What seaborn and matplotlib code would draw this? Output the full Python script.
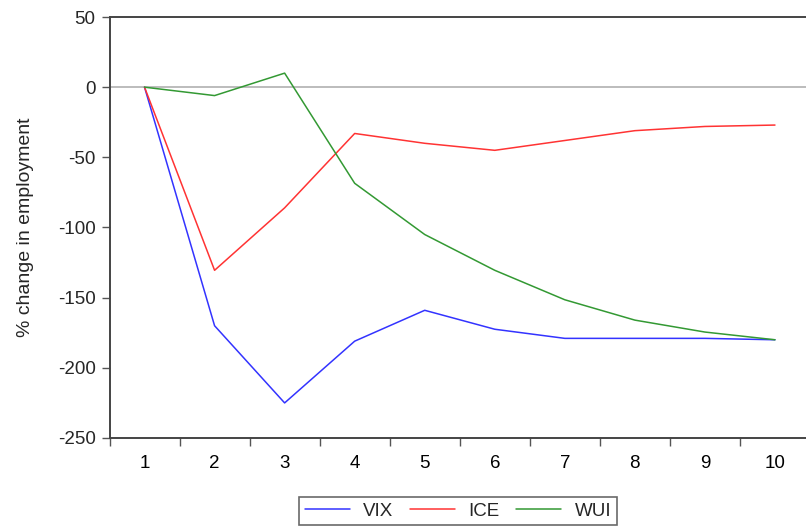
import pandas as pd
import seaborn as sns
import matplotlib.pyplot as plt
from matplotlib.ticker import MultipleLocator, FixedLocator

periods = [1, 2, 3, 4, 5, 6, 7, 8, 9, 10]
vix = [0, -170, -225, -181, -159, -172.5, -179, -179, -179, -180]
ice = [0, -130.5, -86, -33, -40, -45, -38, -31, -28, -27]
wui = [0, -6, 10, -68.5, -105, -130.5, -151.5, -166, -174.5, -180]
series_names = ["VIX", "ICE", "WUI"]
colors = ["#3333ff", "#ff3333", "#339933"]

df = pd.DataFrame({
    "period": periods * 3,
    "value": vix + ice + wui,
    "series": ["VIX"] * 10 + ["ICE"] * 10 + ["WUI"] * 10,
})

sns.set_style("ticks")
plt.rcParams["font.family"] = ["Liberation Sans", "DejaVu Sans"]
plt.rcParams["axes.unicode_minus"] = False

fig = plt.figure(figsize=(8.06, 5.29), dpi=100)
ax = fig.add_axes([109.5 / 806, 91 / 529, 700.5 / 806, 421 / 529])

ax.axhline(0, color="#b0b0b0", lw=1.2, zorder=1)
sns.lineplot(data=df, x="period", y="value", hue="series", hue_order=series_names,
             palette=colors, linewidth=1.1, ax=ax, legend=True)

ax.set_xlim(0.5, 10.5)
ax.set_ylim(-250, 50)
ax.yaxis.set_major_locator(MultipleLocator(50))
ax.xaxis.set_major_locator(FixedLocator(periods))
ax.xaxis.set_minor_locator(FixedLocator([p - 0.5 for p in periods] + [10.5]))
ax.tick_params(axis="x", which="major", length=0, labelsize=13.5, pad=12, colors="black")
ax.tick_params(axis="x", which="minor", length=6, width=1, color="#555555")
ax.tick_params(axis="y", length=6, width=1, color="#555555", labelsize=13.5, pad=4)

for side in ["left", "bottom", "top"]:
    ax.spines[side].set_color("#444444")
    ax.spines[side].set_linewidth(1.4)
ax.spines["right"].set_visible(False)

ax.set_xlabel("")
ax.set_ylabel("% change in employment", fontsize=14, labelpad=17)

leg = ax.legend(loc="upper center", bbox_to_anchor=(0.4975, -0.14), ncol=3,
                fontsize=13.5, handlelength=2.4, columnspacing=0.9, handletextpad=0.7,
                frameon=True, fancybox=False, borderpad=0.3, borderaxespad=0)
leg.get_frame().set_edgecolor("#444444")
leg.get_frame().set_linewidth(1.2)
for line in leg.get_lines():
    line.set_linewidth(1.1)

fig.savefig("out.png", dpi=100)
